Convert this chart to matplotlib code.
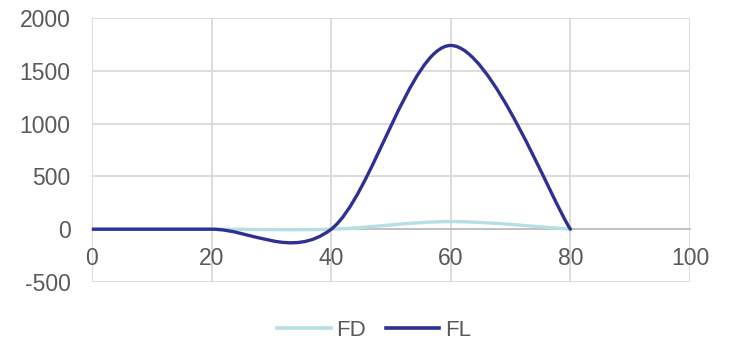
import numpy as np
import matplotlib
matplotlib.use("Agg")
import matplotlib.pyplot as plt
from matplotlib.path import Path
from matplotlib.patches import PathPatch
from matplotlib.lines import Line2D

# Data
x_vals = [0, 20, 40, 60, 80]
fd_vals = [0, 0, 0, 72, 0]
fl_vals = [0, 0, 0, 1740, 0]
series_names = ["FD", "FL"]
x_ticks = [0, 20, 40, 60, 80, 100]
y_ticks = [-500, 0, 500, 1000, 1500, 2000]

fd_color = "#B5DFE4"
fl_color = "#2E3192"
text_color = "#595959"
grid_color = "#D9D9D9"

plt.rcParams["font.family"] = ["Liberation Sans", "DejaVu Sans"]
plt.rcParams["axes.unicode_minus"] = False


def smooth_path(xs, ys):
    """Catmull-Rom style smoothed path through the points, as cubic Bezier segments."""
    pts = np.column_stack([xs, ys]).astype(float)
    n = len(pts)
    verts = [tuple(pts[0])]
    codes = [Path.MOVETO]
    for i in range(n - 1):
        p0 = pts[i - 1] if i > 0 else pts[i]
        p1 = pts[i]
        p2 = pts[i + 1]
        p3 = pts[i + 2] if i + 2 < n else pts[i + 1]
        c1 = p1 + (p2 - p0) / 6.0
        c2 = p2 - (p3 - p1) / 6.0
        verts += [tuple(c1), tuple(c2), tuple(p2)]
        codes += [Path.CURVE4] * 3
    return Path(verts, codes)


fig = plt.figure(figsize=(7.29, 3.45), dpi=100)
ax = fig.add_axes([92 / 729, 1 - 282 / 345, (690 - 92) / 729, (282 - 18) / 345])

ax.set_xlim(0, 100)
ax.set_ylim(-500, 2000)
ax.set_xticks(x_ticks)
ax.set_yticks(y_ticks)
ax.grid(True, color=grid_color, linewidth=1.3, zorder=0)
ax.set_axisbelow(True)

for s in ["top", "right", "left"]:
    ax.spines[s].set_visible(False)
ax.spines["bottom"].set_position(("data", 0))
ax.spines["bottom"].set_color("#BFBFBF")
ax.spines["bottom"].set_linewidth(1.3)
ax.spines["bottom"].set_zorder(1)

ax.tick_params(axis="both", length=0, labelsize=16.5, labelcolor=text_color)
ax.tick_params(axis="y", pad=15.5)
ax.tick_params(axis="x", pad=13)

for ys, col in [(fd_vals, fd_color), (fl_vals, fl_color)]:
    patch = PathPatch(smooth_path(x_vals, ys), facecolor="none", edgecolor=col,
                      linewidth=2.4, capstyle="round", joinstyle="round", zorder=3)
    ax.add_patch(patch)

handles = [Line2D([], [], color=fd_color, linewidth=2.6),
           Line2D([], [], color=fl_color, linewidth=2.6)]
leg = fig.legend(handles, series_names, loc="center", bbox_to_anchor=(374 / 729, 1 - 330 / 345),
                 ncol=2, frameon=False, fontsize=16, handlelength=2.4,
                 handletextpad=0.25, columnspacing=0.9)
for t in leg.get_texts():
    t.set_color(text_color)

fig.savefig("out.png", dpi=100)
